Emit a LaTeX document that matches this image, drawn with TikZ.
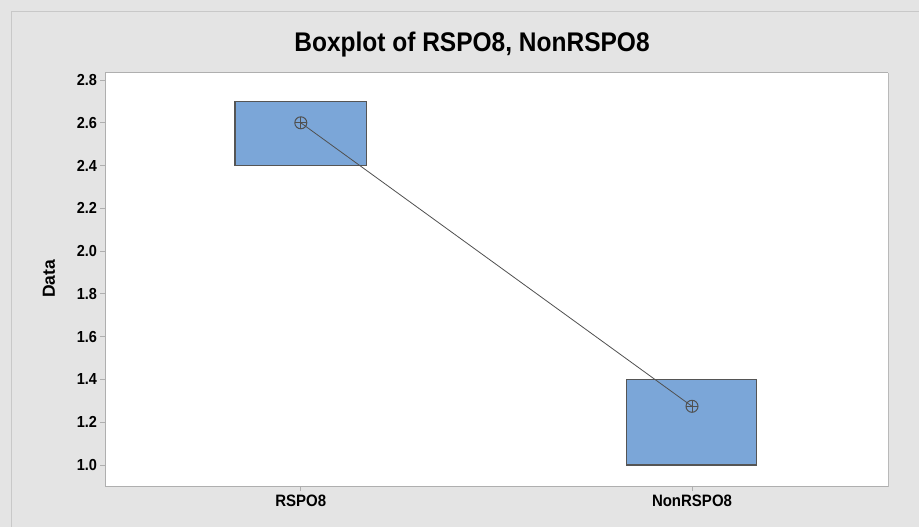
\documentclass[tikz,border=0pt]{standalone}
\usepackage{fontspec}
\setmainfont{Liberation Sans}
\definecolor{bggray}{RGB}{228,228,228}
\definecolor{framegray}{RGB}{200,200,200}
\definecolor{axisgray}{RGB}{175,175,175}
\definecolor{shadowgray}{RGB}{185,185,185}
\definecolor{boxblue}{RGB}{123,166,216}
\definecolor{boxedge}{RGB}{85,85,85}
\definecolor{markgray}{RGB}{80,80,80}
\begin{document}
\begin{tikzpicture}[x=1pt,y=-1pt,
  every node/.style={inner sep=0pt, outer sep=0pt},
  ticklab/.style={font=\fontsize{14.5}{14.5}\selectfont\bfseries, anchor=east, yscale=1.1},
  catlab/.style={font=\fontsize{15}{15}\selectfont\bfseries, yscale=1.1},
  tickmark/.style={draw=axisgray, line width=0.8pt},
  boxst/.style={fill=boxblue, draw=boxedge, line width=1.1pt, anchor=north west},
  meanline/.style={draw=markgray, line width=0.8pt},
  meanmark/.style={circle, draw=markgray, line width=1pt, minimum size=12pt,
    path picture={\draw[markgray, line width=0.9pt]
      (path picture bounding box.north) -- (path picture bounding box.south)
      (path picture bounding box.west) -- (path picture bounding box.east);}}]
\useasboundingbox (0,0) rectangle (919,527);
% background
\fill[bggray] (0,0) rectangle (919,527);
\draw[framegray, line width=1pt] (11,527) -- (11,12) -- (919,12);
% plot area
\fill[white] (105,73) rectangle (888,486);
\draw[axisgray, line width=1pt] (105,486) -- (105,73) -- (888,73);
\draw[axisgray, line width=1pt] (105,486) -- (888,486);
\draw[shadowgray, line width=1.6pt] (888.5,73) -- (888.5,486.5);
% title
\node[font=\fontsize{24.5}{24.5}\selectfont\bfseries, yscale=1.1] (title) at (472,45) {Boxplot of RSPO8, NonRSPO8};
% y axis
\foreach \v in {1.0,1.2,1.4,1.6,1.8,2.0,2.2,2.4,2.6,2.8}{
  \pgfmathsetmacro{\yy}{465-(\v-1)*213.9}
  \draw[tickmark] (100,\yy) -- (105,\yy);
  \node[ticklab] (yl\v) at (97,\yy) {\v};
}
\node[font=\fontsize{17.5}{17.5}\selectfont\bfseries, rotate=90] (ylab) at (49,279) {Data};
% x axis
\draw[tickmark] (300.8,486) -- (300.8,491);
\draw[tickmark] (692,486) -- (692,491);
\node[catlab] (xl1) at (300.8,501) {RSPO8};
\node[catlab] (xl2) at (692,501) {NonRSPO8};
% boxes
\node[boxst, minimum width=131.7pt, minimum height=64.1pt] (box1) at (235,101.4) {};
\node[boxst, minimum width=130pt, minimum height=85.6pt] (box2) at (626.7,379.4) {};
% means
\coordinate (c1) at (300.8,122.8);
\coordinate (c2) at (692,406.3);
\draw[meanline] (c1) -- (c2);
\node[meanmark] (m1) at (c1) {};
\node[meanmark] (m2) at (c2) {};
\end{tikzpicture}
\end{document}
